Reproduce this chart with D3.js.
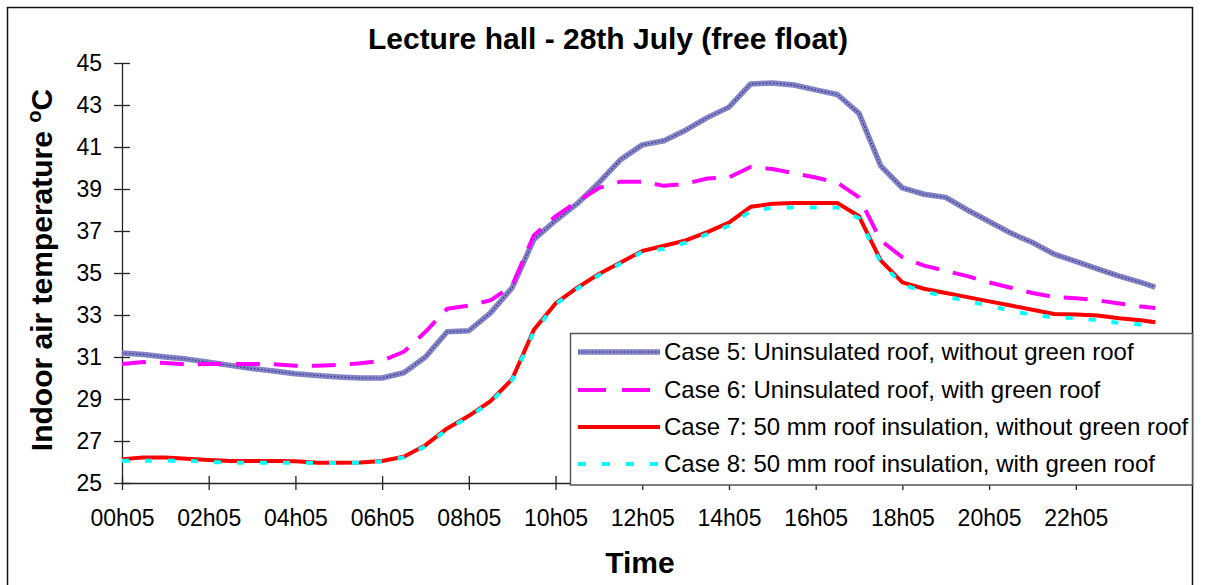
<!DOCTYPE html>
<html>
<head>
<meta charset="utf-8">
<script src="https://cdn.jsdelivr.net/npm/d3@7"></script>
<style>
  body { margin: 0; background: #fff; }
  svg { display: block; font-family: "Liberation Sans", Arial, sans-serif; }
</style>
</head>
<body>
<svg id="chart" width="1205" height="585"></svg>
<script>
// sample times (every 30 min)
let times = ["00h05","00h35","01h05","01h35","02h05","02h35","03h05","03h35","04h05","04h35",
  "05h05","05h35","06h05","06h35","07h05","07h35","08h05","08h35","09h05","09h35",
  "10h05","10h35","11h05","11h35","12h05","12h35","13h05","13h35","14h05","14h35",
  "15h05","15h35","16h05","16h35","17h05","17h35","18h05","18h35","19h05","19h35",
  "20h05","20h35","21h05","21h35","22h05","22h35","23h05","23h35","23h55"];

let case5 = [31.19,31.12,31.0,30.9,30.75,30.6,30.45,30.33,30.2,30.12,
  30.05,30.0,30.0,30.25,31.0,32.2,32.25,33.1,34.3,36.6,
  37.5,38.3,39.3,40.4,41.1,41.3,41.8,42.4,42.9,44.0,
  44.05,43.95,43.72,43.5,42.6,40.1,39.05,38.75,38.6,38.0,
  37.45,36.9,36.45,35.9,35.55,35.2,34.85,34.55,34.33];

let case6 = [30.67,30.76,30.72,30.65,30.67,30.67,30.67,30.65,30.58,30.58,
  30.62,30.7,30.82,31.25,32.2,33.3,33.45,33.7,34.4,36.8,
  37.7,38.4,39.05,39.35,39.35,39.15,39.25,39.5,39.55,40.05,
  39.95,39.75,39.55,39.3,38.6,36.55,35.75,35.35,35.1,34.85,
  34.55,34.3,34.05,33.85,33.8,33.7,33.55,33.4,33.33];

let case7 = [26.13,26.22,26.22,26.15,26.1,26.05,26.05,26.05,26.03,25.97,
  25.97,25.98,26.05,26.25,26.8,27.6,28.2,28.9,29.95,32.3,
  33.55,34.3,34.95,35.5,36.05,36.3,36.55,36.95,37.4,38.15,
  38.3,38.33,38.33,38.33,37.7,35.6,34.55,34.25,34.05,33.85,
  33.65,33.45,33.25,33.05,33.02,32.98,32.85,32.75,32.65];

let case8 = [26.06,26.06,26.06,26.06,26.0,25.97,25.97,25.97,25.97,25.95,
  25.95,25.97,26.03,26.22,26.75,27.55,28.15,28.85,29.9,32.2,
  33.5,34.25,34.9,35.45,36.0,36.15,36.45,36.85,37.25,37.95,
  38.1,38.12,38.12,38.12,37.6,35.5,34.45,34.1,33.9,33.65,
  33.45,33.2,33.0,32.9,32.85,32.75,32.62,32.55,32.48];

let xTickLabels = ["00h05","02h05","04h05","06h05","08h05","10h05","12h05","14h05","16h05","18h05","20h05","22h05"];
let yTicks = [25,27,29,31,33,35,37,39,41,43,45];

let seriesNames = ["Case 5: Uninsulated roof, without green roof",
  "Case 6: Uninsulated roof, with green roof",
  "Case 7: 50 mm roof insulation, without green roof",
  "Case 8: 50 mm roof insulation, with green roof"];

// hours after 00h05
function toHours(s) {
    let p = s.split("h");
    return +p[0] + (+p[1] - 5) / 60;
}

let svg = d3.select("#chart");

svg.append("rect")
    .attr("x", 7.5).attr("y", 7.5)
    .attr("width", 1185).attr("height", 600)
    .attr("fill", "#fff").attr("stroke", "#111").attr("stroke-width", 1.5);

let x = d3.scaleLinear().domain([0, 24.68]).range([122, 1192]);
let y = d3.scaleLinear().domain([25, 45]).range([483, 63]);

// title
svg.append("text")
    .attr("x", 608).attr("y", 49)
    .attr("text-anchor", "middle")
    .style("font-size", "30px").style("font-weight", "bold")
    .text("Lecture hall - 28th July (free float)");

// y axis
let yAxis = svg.append("g")
    .attr("transform", "translate(122,0)")
    .call(d3.axisLeft(y).tickValues(yTicks).tickSize(8).tickSizeOuter(0).tickPadding(12));
yAxis.selectAll(".tick line").attr("x1", 8);
yAxis.selectAll("text").style("font-size", "23px").attr("fill", "#000");
yAxis.selectAll("path, line").attr("stroke", "#222").attr("stroke-width", 1.3);

// x axis
let xAxis = svg.append("g")
    .attr("transform", "translate(0,483)")
    .call(d3.axisBottom(x)
        .tickValues(xTickLabels.map(toHours))
        .tickFormat((d, i) => xTickLabels[i])
        .tickSize(7).tickSizeOuter(0));
xAxis.selectAll(".tick line").attr("y1", -7);
xAxis.selectAll("text").attr("y", 27).attr("dy", "0.71em").style("font-size", "23px").attr("fill", "#000");
xAxis.selectAll("path, line").attr("stroke", "#222").attr("stroke-width", 1.3);

// axis titles
svg.append("text")
    .attr("transform", "translate(52,270) rotate(-90)")
    .attr("text-anchor", "middle")
    .style("font-size", "30px").style("font-weight", "bold")
    .text("Indoor air temperature ")
    .append("tspan").attr("dy", -11).style("font-size", "20px").text("o")
    .select(function () { return this.parentNode; })
    .append("tspan").attr("dy", 11).text("C");

svg.append("text")
    .attr("x", 640).attr("y", 573)
    .attr("text-anchor", "middle")
    .style("font-size", "30px").style("font-weight", "bold")
    .text("Time");

// lines
let hours = times.map(toHours);
function lineFor(vals) {
    return d3.line()
        .x((d, i) => x(hours[i]))
        .y(d => y(d))(vals);
}

let styles = [
    {color: "#8282c4", width: 5.5, dash: null, legendDash: null},
    {color: "#ff00ff", width: 4, dash: "24,14", legendDash: "28,16"},
    {color: "#ff0000", width: 4, dash: null, legendDash: null},
    {color: "#00ffff", width: 4, dash: "7,16", legendDash: "8,16"}
];
let allSeries = [case5, case6, case7, case8];

let lines = svg.append("g");
allSeries.forEach(function (vals, k) {
    lines.append("path")
        .attr("d", lineFor(vals))
        .attr("fill", "none")
        .attr("stroke", styles[k].color)
        .attr("stroke-width", styles[k].width)
        .attr("stroke-dasharray", styles[k].dash)
        .attr("stroke-linejoin", "round");
    if (k == 0) {
        // darker texture on the patterned line
        lines.append("path")
            .attr("d", lineFor(vals))
            .attr("fill", "none")
            .attr("stroke", "#33338f")
            .attr("stroke-width", 1.2)
            .attr("stroke-dasharray", "1.5,2");
    }
});

// legend
let legend = svg.append("g");
legend.append("rect")
    .attr("x", 570.5).attr("y", 333.5)
    .attr("width", 622).attr("height", 151.5)
    .attr("fill", "#fff").attr("stroke", "#555").attr("stroke-width", 1.5);

let legendY = [352, 390, 427, 464];
seriesNames.forEach(function (name, k) {
    let ly = legendY[k];
    legend.append("line")
        .attr("x1", 578).attr("x2", 660)
        .attr("y1", ly).attr("y2", ly)
        .attr("stroke", styles[k].color)
        .attr("stroke-width", styles[k].width)
        .attr("stroke-dasharray", styles[k].legendDash);
    if (k == 0) {
        legend.append("line")
            .attr("x1", 578).attr("x2", 660)
            .attr("y1", ly).attr("y2", ly)
            .attr("stroke", "#33338f").attr("stroke-width", 1.2)
            .attr("stroke-dasharray", "1.5,2");
    }
    legend.append("text")
        .attr("x", 664).attr("y", ly + 8)
        .style("font-size", "24px")
        .text(name);
});
</script>
</body>
</html>
